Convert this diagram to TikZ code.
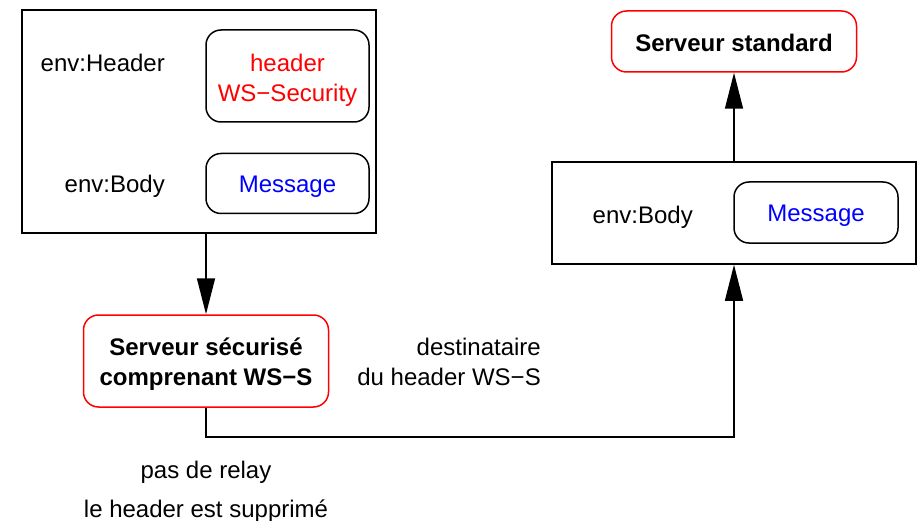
\documentclass[tikz,border=0pt]{standalone}
\usepackage{fontspec}
\setmainfont{Liberation Sans}
\usepackage{tikz}
\usetikzlibrary{positioning}
\usetikzlibrary{calc,arrows.meta}

\newcommand{\diagfont}{\fontsize{24}{30}\selectfont}

\tikzset{
	envbox/.style={draw, line width=1.5pt, inner sep=0pt},
	partbox/.style={draw, line width=1.5pt, rounded corners=15pt, inner sep=0pt, minimum width=163pt, align=center},
	srvbox/.style={draw=red, line width=1.5pt, rounded corners=15pt, inner sep=0pt, minimum width=245pt, align=center, font=\diagfont\bfseries},
	tag/.style={inner sep=0pt},
	flow/.style={line width=1.5pt, -{Triangle[length=36pt,width=18pt]}}
}

\begin{document}
\begin{tikzpicture}[x=1pt, y=-1pt, font=\diagfont]

	\useasboundingbox (0,0) rectangle (917,521);

	%Envelope with header
	\node[envbox, minimum width=354pt, minimum height=223pt] (Env1) at (199,121.5) {};
	\node[partbox, minimum height=92pt, text height=52pt, text depth=0pt, text=red] (Hdr) at (287.5,76) {header\\WS−Security};
	\node[partbox, minimum height=60pt, text height=18pt, text depth=0pt, text=blue] (Msg1) at (287.5,183.5) {Message};
	\node[tag, anchor=base east] (HdrLbl) at (165,72) {env:Header};
	\node[tag, anchor=base east] (BodyLbl1) at (165,193) {env:Body};

	%Secure server
	\node[srvbox, minimum height=92pt, text height=48pt, text depth=0pt] (Secure) at (206,361) {Serveur sécurisé\\comprenant WS−S};
	\node[tag, align=right, anchor=east] (Dest) at (541,362) {destinataire\\du header WS−S};
	\node[tag, anchor=base] (Relay) at (206,478) {pas de relay};
	\node[tag, anchor=base] (Strip) at (206,517) {le header est supprimé};

	%Envelope without header
	\node[envbox, minimum width=364pt, minimum height=102pt] (Env2) at (734,213) {};
	\node[partbox, minimum width=164pt, minimum height=61pt, text height=18pt, text depth=0pt, text=blue] (Msg2) at (816,212.5) {Message};
	\node[tag, anchor=base east] (BodyLbl2) at (693,223) {env:Body};

	%Standard server
	\node[srvbox, minimum height=61pt, text height=21pt, text depth=0pt] (Std) at (734,41.5) {Serveur standard};

	%%%%%%%%%%%%%%%%%%%%%%%%%%%%%%%%%%%%%%%%%%%%%%%%%%%%
	\coordinate (Bend) at (734,437);

	\draw[flow] (Secure.north |- Env1.south) -- (Secure.north);
	\draw[flow] (Secure.south) |- (Bend) -- (Env2.south); %relayed without header
	\draw[flow] (Env2.north) -- (Std.south);

\end{tikzpicture}
\end{document}
